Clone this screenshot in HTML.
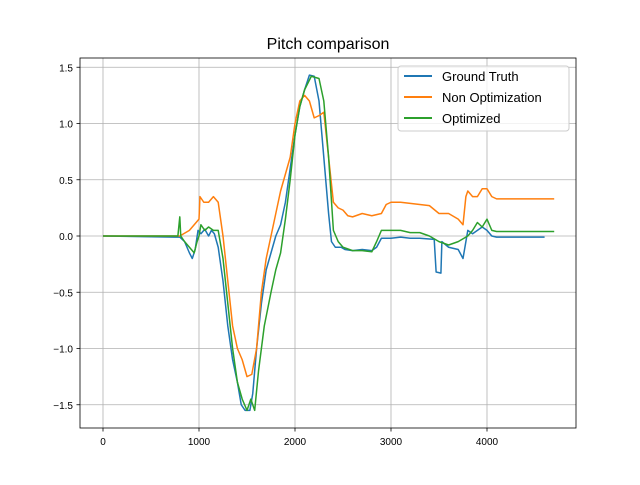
<!DOCTYPE html>
<html><head><meta charset="utf-8"><style>body{margin:0;background:#fff}svg{font-family:"Liberation Sans",sans-serif}</style></head>
<body>
<svg id="chart" width="640" height="480" viewBox="0 0 640 480">
<rect width="640" height="480" fill="#fff"/>
<text x="328" y="49" text-anchor="middle" font-size="16">Pitch comparison</text>
<g id="grid"></g><g id="series"></g><g id="axes"></g>
<g>
<rect x="398" y="66" width="171" height="65" rx="3" fill="#fff" fill-opacity="0.8" stroke="#ccc"/>
<g><line x1="404" y1="76" x2="432" y2="76" stroke="#1f77b4" stroke-width="2"/><text x="442" y="81" font-size="13">Ground Truth</text></g>
<g><line x1="404" y1="97" x2="432" y2="97" stroke="#ff7f0e" stroke-width="2"/><text x="442" y="102" font-size="13">Non Optimization</text></g>
<g><line x1="404" y1="118" x2="432" y2="118" stroke="#2ca02c" stroke-width="2"/><text x="442" y="123" font-size="13">Optimized</text></g>
</g>
</svg>
<script>
const xTicks=[0,1000,2000,3000,4000];
const yTicks=[1.5,1.0,0.5,0.0,-0.5,-1.0,-1.5];
const yTickLabels=["1.5","1.0","0.5","0.0","−0.5","−1.0","−1.5"];
const gtX=[0,750,800,850,900,930,960,990,1020,1060,1100,1130,1160,1200,1250,1300,1350,1400,1440,1480,1530,1560,1600,1650,1700,1750,1800,1850,1900,1950,2000,2050,2100,2150,2200,2250,2300,2350,2380,2420,2480,2520,2600,2700,2800,2850,2900,3000,3100,3200,3300,3450,3470,3520,3530,3600,3700,3750,3780,3800,3850,3900,3950,4000,4050,4100,4600];
const gtY=[0,-0.01,-0.01,-0.05,-0.15,-0.2,-0.12,0.05,0.02,0.06,0,0.05,0.02,-0.1,-0.4,-0.8,-1.1,-1.3,-1.5,-1.55,-1.55,-1.4,-1.0,-0.6,-0.3,-0.15,0,0.1,0.3,0.6,0.9,1.15,1.3,1.43,1.42,1.2,0.7,0.2,-0.05,-0.1,-0.1,-0.12,-0.13,-0.12,-0.13,-0.1,-0.02,-0.02,-0.01,-0.02,-0.02,-0.03,-0.32,-0.33,-0.05,-0.1,-0.12,-0.2,-0.05,0.05,0.02,0.05,0.08,0.05,0,-0.01,-0.01];
const noX=[0,800,900,950,1000,1010,1050,1100,1150,1200,1250,1300,1350,1400,1450,1500,1550,1600,1650,1700,1750,1800,1850,1900,1950,2000,2050,2100,2150,2200,2250,2300,2350,2400,2450,2500,2550,2600,2700,2800,2900,2950,3000,3100,3200,3300,3400,3500,3600,3700,3750,3780,3800,3850,3900,3950,4000,4050,4100,4700];
const noY=[0,0,0.05,0.1,0.15,0.35,0.3,0.3,0.35,0.3,0,-0.4,-0.8,-1.0,-1.1,-1.25,-1.23,-1.0,-0.5,-0.2,0,0.2,0.4,0.55,0.7,1.0,1.2,1.25,1.2,1.05,1.07,1.1,0.7,0.3,0.25,0.23,0.18,0.17,0.2,0.18,0.2,0.28,0.3,0.3,0.29,0.28,0.27,0.2,0.2,0.15,0.1,0.35,0.4,0.35,0.35,0.42,0.42,0.35,0.33,0.33];
const opX=[0,780,800,810,850,900,950,980,1000,1020,1060,1100,1150,1200,1250,1300,1350,1400,1450,1500,1540,1580,1620,1680,1750,1800,1850,1900,1950,2000,2050,2100,2170,2250,2300,2350,2400,2450,2500,2600,2700,2800,2850,2900,3000,3100,3200,3300,3400,3500,3600,3700,3800,3850,3900,3950,4000,4050,4100,4700];
const opY=[0,0,0.17,0,-0.05,-0.1,-0.15,-0.05,0,0.1,0.05,0.08,0.05,0.05,-0.2,-0.6,-1.0,-1.3,-1.45,-1.55,-1.45,-1.55,-1.2,-0.8,-0.5,-0.3,-0.15,0.15,0.5,0.9,1.15,1.3,1.42,1.4,1.2,0.7,0.05,-0.05,-0.1,-0.13,-0.13,-0.14,-0.05,0.05,0.05,0.05,0.03,0.03,0,-0.05,-0.08,-0.05,0,0.05,0.12,0.08,0.15,0.05,0.04,0.04];
const L=80,R=576,T=58,B=428;
const sx=v=>103+v*0.096, sy=v=>236-v*112.5;
const NS="http://www.w3.org/2000/svg";
function mk(t,a,p){const e=document.createElementNS(NS,t);for(const k in a)e.setAttribute(k,a[k]);p.appendChild(e);return e;}
const grid=document.getElementById('grid'),axes=document.getElementById('axes'),ser=document.getElementById('series');
xTicks.forEach(v=>{const x=sx(v);
const g=mk('line',{x1:x,x2:x,y1:T,y2:B,stroke:'#b0b0b0','stroke-width':0.8},grid);


mk('line',{x1:x,x2:x,y1:B,y2:B+3.5,stroke:'#000','stroke-width':0.8},axes);
const t=mk('text',{x:x,y:B+17,'text-anchor':'middle','font-size':10},axes);t.textContent=v;

});
yTicks.forEach((v,i)=>{const y=sy(v);
const g=mk('line',{x1:L,x2:R,y1:y,y2:y,stroke:'#b0b0b0','stroke-width':0.8},grid);


mk('line',{x1:L-3.5,x2:L,y1:y,y2:y,stroke:'#000','stroke-width':0.8},axes);
const t=mk('text',{x:L-7,y:y+4,'text-anchor':'end','font-size':10},axes);t.textContent=yTickLabels[i];

});
const fr=mk('rect',{x:L,y:T,width:R-L,height:B-T,fill:'none',stroke:'#000','stroke-width':0.8},axes);


[[gtX,gtY,'#1f77b4','ground-truth-line'],[noX,noY,'#ff7f0e','non-optimization-line'],[opX,opY,'#2ca02c','optimized-line']].forEach(s=>{
const p=mk('polyline',{points:s[0].map((x,i)=>sx(x)+','+sy(s[1][i])).join(' '),fill:'none',stroke:s[2],'stroke-width':1.5,'stroke-linejoin':'round'},ser);

});
</script>
</body></html>
